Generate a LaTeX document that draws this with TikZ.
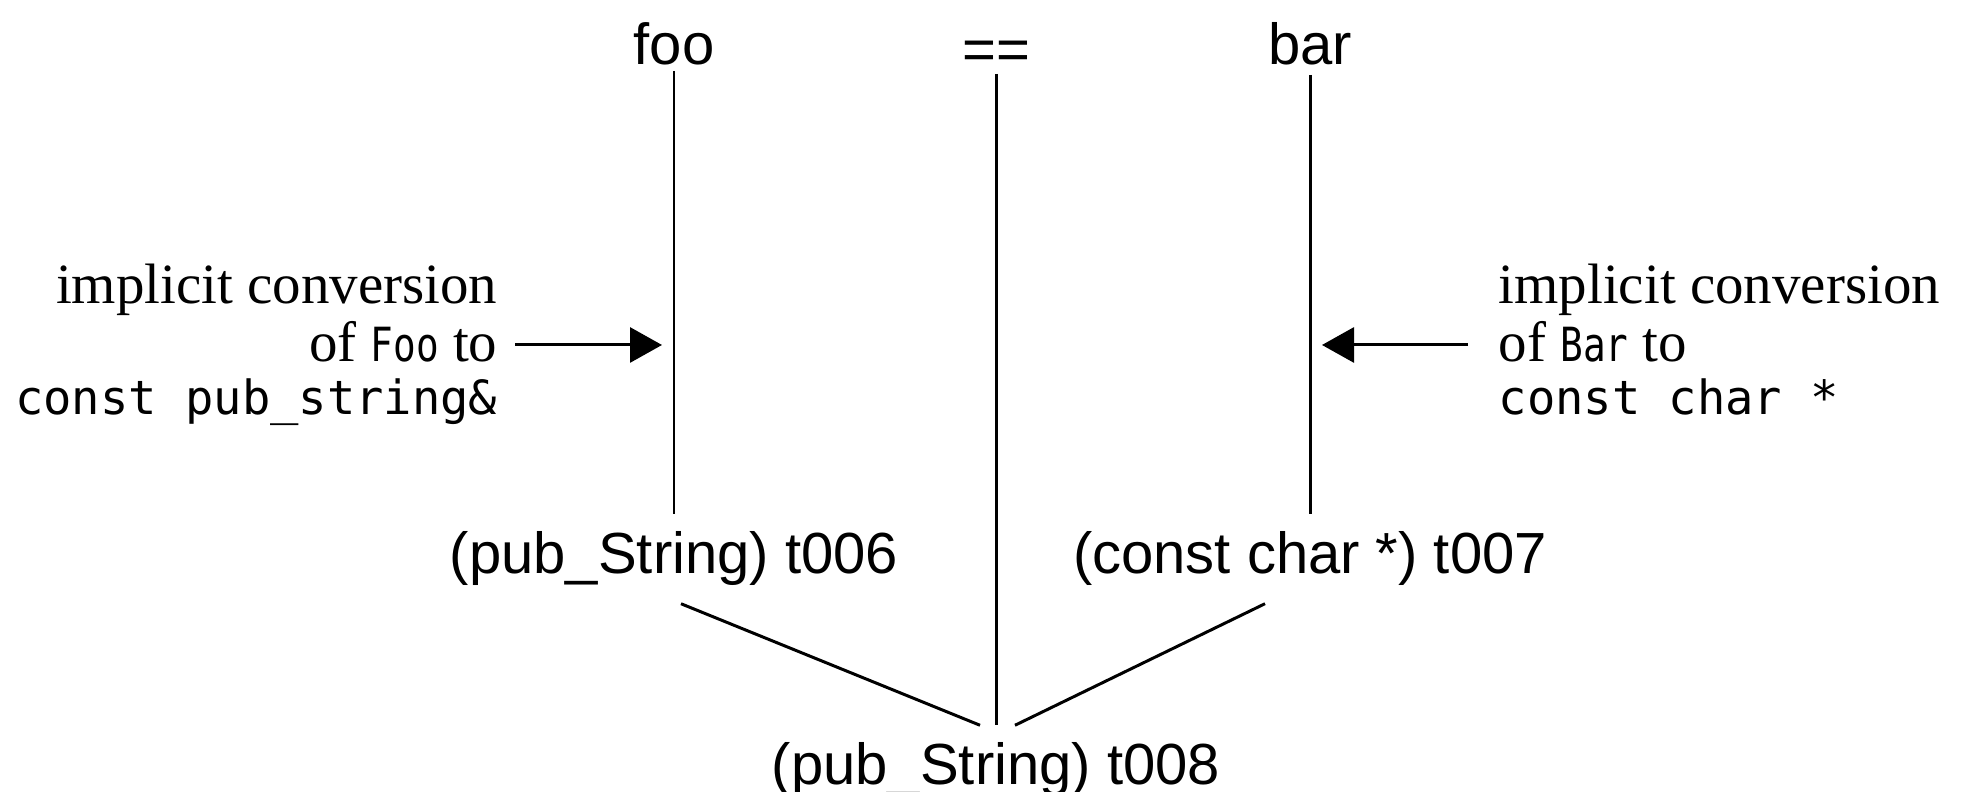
\documentclass[tikz,border=0pt]{standalone}
\usepackage{fontspec}
\setmainfont{Liberation Serif}
\setsansfont{Liberation Sans}
\setmonofont{DejaVu Sans Mono}
\newfontfamily\narrowmono[FakeStretch=0.8]{DejaVu Sans Mono}
\usepackage{tikz}
\usetikzlibrary{arrows.meta, positioning, calc}
\newcommand{\codeword}[1]{{\fontsize{13.4}{14}\narrowmono #1}}
\newcommand{\codeline}[1]{{\fontsize{13.4}{14}\ttfamily #1}}
\tikzset{
  termnode/.style={font=\fontsize{16.5}{19}\sffamily, inner xsep=0pt, inner ysep=1.7mm, anchor=base},
  notenode/.style={font=\fontsize{16.2}{16.6}\selectfont, inner ysep=0pt},
  treeline/.style={line width=0.85pt, draw=black},
  convarrow/.style={-{Triangle[length=3.2mm,width=3.5mm]}, line width=0.85pt, draw=black}
}

\begin{document}
\begin{tikzpicture}
  \useasboundingbox (0,0) rectangle (19.62,-7.92);

  % expression
  \node[termnode] at (6.74,-0.65) (foo) {foo};
  \node[termnode] at (9.96,-0.70) (eqeq) {==};
  \node[termnode] at (13.10,-0.65) (bar) {bar};

  % temporaries
  \node[termnode] at (6.74,-5.74) (t006) {(pub\_String) t006};
  \node[termnode] at (13.10,-5.74) (t007) {(const char *) t007};
  \node[termnode] at (9.96,-7.85) (t008) {(pub\_String) t008};

  \draw[treeline] ([yshift=-0.6mm]foo.base) -- (t006.north);
  \draw[treeline] ([yshift=-0.4mm]eqeq.base) -- (t008.north);
  \draw[treeline] ([yshift=-1mm]bar.base) -- (t007.north);
  \draw[treeline] ([xshift=0.7mm]t006.south) -- ([xshift=-1.6mm]t008.north);
  \draw[treeline] ([xshift=-4.5mm]t007.south) -- ([xshift=1.9mm]t008.north);

  % conversion notes
  \node[notenode, align=right, inner xsep=1.7mm, anchor=north east] at (5.15,-2.63) (leftnote)
    {implicit conversion\\ of \codeword{Foo} to\\[-1.5pt] \codeline{const pub\_string\&}};
  \node[notenode, align=left, inner xsep=3mm, anchor=north west] at (14.68,-2.63) (rightnote)
    {implicit conversion\\ of \codeword{Bar} to\\[-1.5pt] \codeline{const char *}};

  \coordinate (fooin) at (6.62,-3.45);
  \coordinate (barin) at (13.22,-3.45);
  \draw[convarrow] (leftnote.east |- fooin) -- (fooin);
  \draw[convarrow] (rightnote.west |- barin) -- (barin);
\end{tikzpicture}
\end{document}
